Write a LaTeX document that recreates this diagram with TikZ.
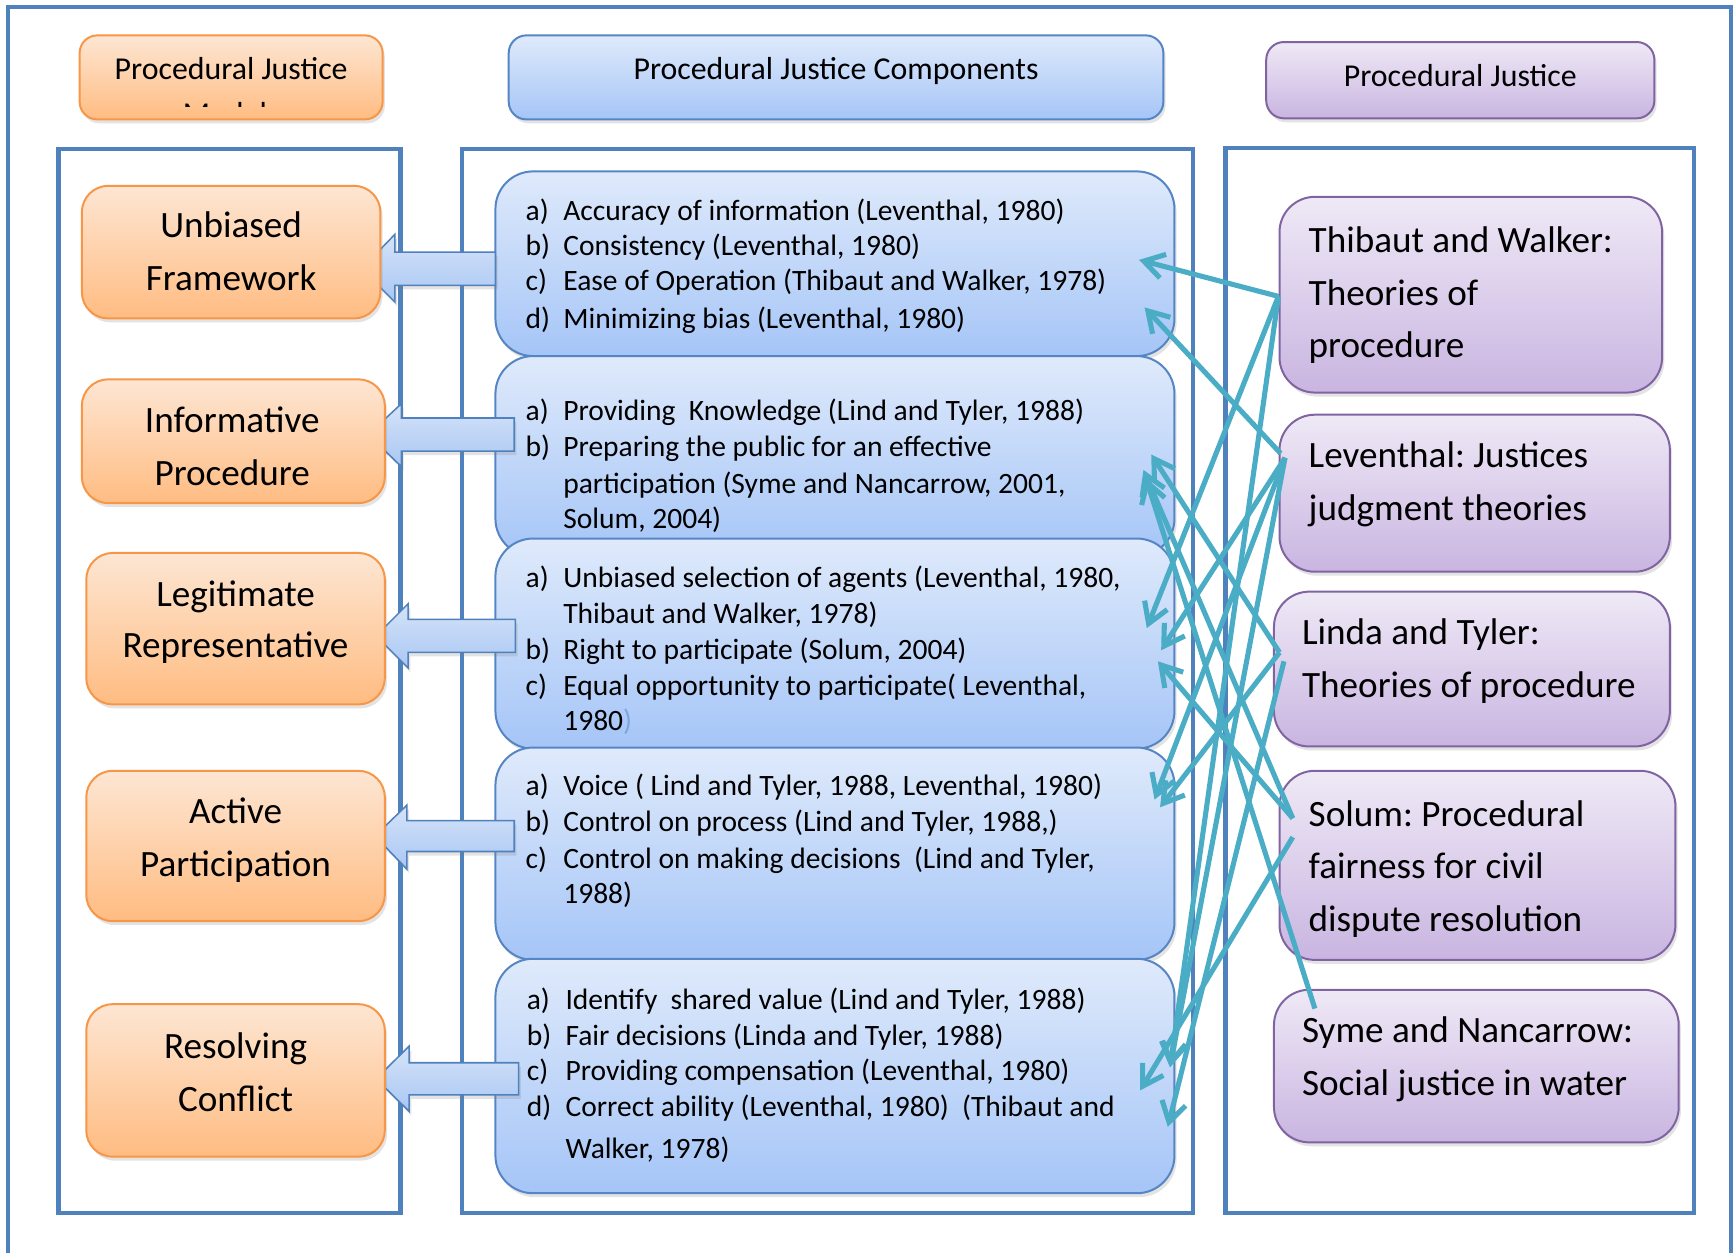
\documentclass[tikz,border=0pt]{standalone}
\usepackage{fontspec}
\setmainfont{Carlito}
\usetikzlibrary{arrows.meta,shadows}
\definecolor{frameblue}{HTML}{4F81BD}
\definecolor{linkcyan}{HTML}{4BACC6}
\definecolor{orTop}{HTML}{FDE6D3}
\definecolor{orBot}{HTML}{FFBC82}
\definecolor{orLine}{HTML}{F79646}
\definecolor{blTop}{HTML}{DFEAFB}
\definecolor{blBot}{HTML}{A5C5F7}
\definecolor{blLine}{HTML}{5685C4}
\definecolor{baTop}{HTML}{D5E3F8}
\definecolor{baBot}{HTML}{A9C7F4}
\definecolor{puTop}{HTML}{EFE9F6}
\definecolor{puBot}{HTML}{C9B5E1}
\definecolor{puLine}{HTML}{8064A2}
\definecolor{parblue}{HTML}{7FA6E0}
\newcommand\myhd{\fontsize{14.4}{17}\selectfont}
\newcommand\mybig{\fontsize{16.8}{20}\selectfont}
\newcommand\mybody{\fontsize{13.35}{16}\selectfont}
\newcommand\itm[4]{\node[bodytxt] (#1) at (475,#2) {\makebox[17pt][l]{#3)}#4};}
\newcommand\cont[3]{\node[bodytxt] (#1) at (509,#2) {#3};}
\newcommand\blockarr[7]{\draw[blockstyle] (#1,#2) -- (#6,#2) -- (#6,#4) -- (#7,{(#2+#3)/2}) -- (#6,#5) -- (#6,#3) -- (#1,#3) -- cycle;}
\tikzset{
  shad/.style={drop shadow={opacity=0.22, shadow xshift=1pt, shadow yshift=-1.8pt}},
  frame/.style={draw=frameblue, line width=2pt, inner sep=0, outer sep=0},
  obox/.style={draw=orLine, line width=0.9pt, rounded corners=12pt, top color=orTop, bottom color=orBot, inner sep=0, shad},
  ohead/.style={obox, rounded corners=8pt},
  mbox/.style={draw=blLine, line width=0.9pt, rounded corners=17pt, top color=blTop, bottom color=blBot, inner sep=0, shad},
  mhead/.style={mbox, rounded corners=8pt},
  pbox/.style={draw=puLine, line width=0.9pt, rounded corners=16pt, top color=puTop, bottom color=puBot, inner sep=0, shad},
  phead/.style={pbox, rounded corners=8pt},
  blockstyle/.style={draw=frameblue, line width=0.7pt, top color=baTop, bottom color=baBot, shad},
  bodytxt/.style={anchor=base west, inner sep=0, font=\mybody\frenchspacing},
  bigc/.style={anchor=base, inner sep=0, font=\mybig\frenchspacing},
  bigl/.style={anchor=base west, inner sep=0, font=\mybig\frenchspacing},
  hdtxt/.style={anchor=base, inner sep=0, font=\myhd},
  link/.style={draw=linkcyan, line width=2.3pt, -{Straight Barb[length=9pt,width=11pt]}}
}
\begin{document}
\begin{tikzpicture}[x=0.5pt,y=-0.5pt]
\useasboundingbox (0,0) rectangle (1568,1133);
% outer border (open at the bottom)
\draw[draw=frameblue, line width=1.7pt] (7,1150) -- (7,6) -- (1565,6) -- (1565,1150);
% column frames
\node[frame, minimum width=154.5pt, minimum height=481pt] (fL) at (207.5,616) {};
\node[frame, minimum width=330.5pt, minimum height=481pt] (fM) at (748.5,616) {};
\node[frame, minimum width=212pt, minimum height=481.5pt] (fR) at (1320,615.5) {};
% headers
\node[ohead, minimum width=137pt, minimum height=38pt] (hO) at (209,70) {};
\node[hdtxt] (hOt) at (209,72) {Procedural Justice};
\begin{scope}
  \clip (80,40) rectangle (340,96.5);
  \node[hdtxt] (hOm) at (209,112.5) {Models};
\end{scope}
\node[mhead, minimum width=296pt, minimum height=38pt] (hB) at (756,70) {};
\node[hdtxt] (hBt) at (756,72) {Procedural Justice Components};
\node[phead, minimum width=175.5pt, minimum height=34.5pt] (hP) at (1320.5,72.5) {};
\node[hdtxt] (hPt) at (1320.5,78) {Procedural Justice};
% middle boxes
\node[mbox, minimum width=307pt, minimum height=83.5pt] (m1) at (755,238.5) {};
\node[mbox, minimum width=307pt, minimum height=90.5pt] (m2) at (755,412.5) {};
\node[mbox, minimum width=307pt, minimum height=95pt] (m3) at (755,582) {};
\node[mbox, minimum width=307pt, minimum height=96pt] (m4) at (755,772) {};
\node[mbox, minimum width=307pt, minimum height=106pt] (m5) at (755,973) {};
% block arrows
\blockarr{448}{228}{258}{212}{273}{357}{327}
\blockarr{465}{378}{408}{365}{422}{363}{333}
\blockarr{466}{560}{590}{546}{604}{369}{340}
\blockarr{465}{742}{770}{728}{786}{368}{339}
\blockarr{469}{961}{990}{946}{1005}{370}{340}
% orange boxes
\node[obox, minimum width=135pt, minimum height=60pt] (o1) at (209,228) {};
\node[obox, minimum width=137pt, minimum height=56pt] (o2) at (211,399) {};
\node[obox, minimum width=135pt, minimum height=68.5pt] (o3) at (213,568.5) {};
\node[obox, minimum width=135pt, minimum height=68pt] (o4) at (213,765) {};
\node[obox, minimum width=135pt, minimum height=69pt] (o5) at (213,977) {};
\node[bigc] (o1a) at (209,215) {Unbiased};
\node[bigc] (o1b) at (209,263) {Framework};
\node[bigc] (o2a) at (210,391) {Informative};
\node[bigc] (o2b) at (210,439) {Procedure};
\node[bigc] (o3a) at (213,548) {Legitimate};
\node[bigc] (o3b) at (213,595) {Representative};
\node[bigc] (o4a) at (213,745) {Active};
\node[bigc] (o4b) at (213,793) {Participation};
\node[bigc] (o5a) at (213,957) {Resolving};
\node[bigc] (o5b) at (213,1005) {Conflict};
% purple boxes
\node[pbox, minimum width=173pt, minimum height=88.5pt] (p1) at (1330,266.5) {};
\node[pbox, minimum width=176.5pt, minimum height=71pt] (p2) at (1333.5,446) {};
\node[pbox, minimum width=179pt, minimum height=70pt] (p3) at (1331,605) {};
\node[pbox, minimum width=179pt, minimum height=85.5pt] (p4) at (1336,782.5) {};
\node[pbox, minimum width=183pt, minimum height=69pt] (p5) at (1335,964) {};
\node[bigl] (p1a) at (1183,228) {Thibaut and Walker:};
\node[bigl] (p1b) at (1183,276) {Theories of};
\node[bigl] (p1c) at (1183,323) {procedure};
\node[bigl] (p2a) at (1183,423) {Leventhal: Justices};
\node[bigl] (p2b) at (1183,471) {judgment theories};
\node[bigl] (p3a) at (1177,583) {Linda and Tyler:};
\node[bigl] (p3b) at (1177,631) {Theories of procedure};
\node[bigl] (p4a) at (1183,747) {Solum: Procedural};
\node[bigl] (p4b) at (1183,794) {fairness for civil};
\node[bigl] (p4c) at (1183,842) {dispute resolution};
\node[bigl] (p5a) at (1177,943) {Syme and Nancarrow:};
\node[bigl] (p5b) at (1177,991) {Social justice in water};
% middle texts
\itm{b1a}{199}{a}{Accuracy of information (Leventhal, 1980)}
\itm{b1b}{231}{b}{Consistency (Leventhal, 1980)}
\itm{b1c}{263}{c}{Ease of Operation (Thibaut and Walker, 1978)}
\itm{b1d}{297}{d}{Minimizing bias (Leventhal, 1980)}
\itm{b2a}{380}{a}{Providing\ \ Knowledge (Lind and Tyler, 1988)}
\itm{b2b}{413}{b}{Preparing the public for an effective}
\cont{b2c}{446}{participation (Syme and Nancarrow, 2001,}
\cont{b2d}{478}{Solum, 2004)}
\itm{b3a}{531}{a}{Unbiased selection of agents (Leventhal, 1980,}
\cont{b3b}{564}{Thibaut and Walker, 1978)}
\itm{b3c}{596}{b}{Right to participate (Solum, 2004)}
\itm{b3d}{629}{c}{Equal opportunity to participate( Leventhal,}
\cont{b3e}{661}{1980\textcolor{parblue}{)}}
\itm{b4a}{719}{a}{Voice ( Lind and Tyler, 1988, Leventhal, 1980)}
\itm{b4b}{752}{b}{Control on process (Lind and Tyler, 1988,)}
\itm{b4c}{785}{c}{Control on making decisions\ \ (Lind and Tyler,}
\cont{b4d}{817}{1988)}
\node[bodytxt] (b5a) at (476,913) {\makebox[17.5pt][l]{a)}Identify\ \ shared value (Lind and Tyler, 1988)};
\node[bodytxt] (b5b) at (476,945) {\makebox[17.5pt][l]{b)}Fair decisions (Linda and Tyler, 1988)};
\node[bodytxt] (b5c) at (476,977) {\makebox[17.5pt][l]{c)}Providing compensation (Leventhal, 1980)};
\node[bodytxt] (b5d) at (476,1010) {\makebox[17.5pt][l]{d)}Correct ability (Leventhal, 1980)\ \ (Thibaut and};
\node[bodytxt] (b5e) at (511,1048) {Walker, 1978)};
% link end points
\coordinate (sTW) at (1156,268);
\coordinate (sLa) at (1158,410);
\coordinate (sLb) at (1162,414);
\coordinate (sLTa) at (1157,590);
\coordinate (sLTb) at (1161,598);
\coordinate (sSa) at (1169,740);
\coordinate (sSb) at (1169,757);
\coordinate (sSN) at (1189,912);
\coordinate (t1) at (1030,235);
\coordinate (t2) at (1035,278);
\coordinate (t3) at (1041,411);
\coordinate (t4) at (1034,425);
\coordinate (t4b) at (1036,432);
\coordinate (t5) at (1037,568);
\coordinate (t6) at (1050,588);
\coordinate (t7) at (1047,598);
\coordinate (t8) at (1044,723);
\coordinate (t9) at (1049,730);
\coordinate (t10) at (1031,986);
\coordinate (t11) at (1058,965);
\coordinate (t12) at (1056,1019);
% links
\draw[link] (sTW) -- (t1);
\draw[link] (sLa) -- (t2);
\draw[link] (sLTa) -- (t3);
\draw[link] (sSa) -- (t4);
\draw[link] (sSN) -- (t4b);
\draw[link] (sTW) -- (t5);
\draw[link] (sLb) -- (t6);
\draw[link] (sSa) -- (t7);
\draw[link] (sLb) -- (t8);
\draw[link] (sLTa) -- (t9);
\draw[link] (sSb) -- (t10);
\draw[link] (sTW) -- (t11);
\draw[link] (sLb) -- (t11);
\draw[link] (sLTb) -- (t12);
\end{tikzpicture}
\end{document}
